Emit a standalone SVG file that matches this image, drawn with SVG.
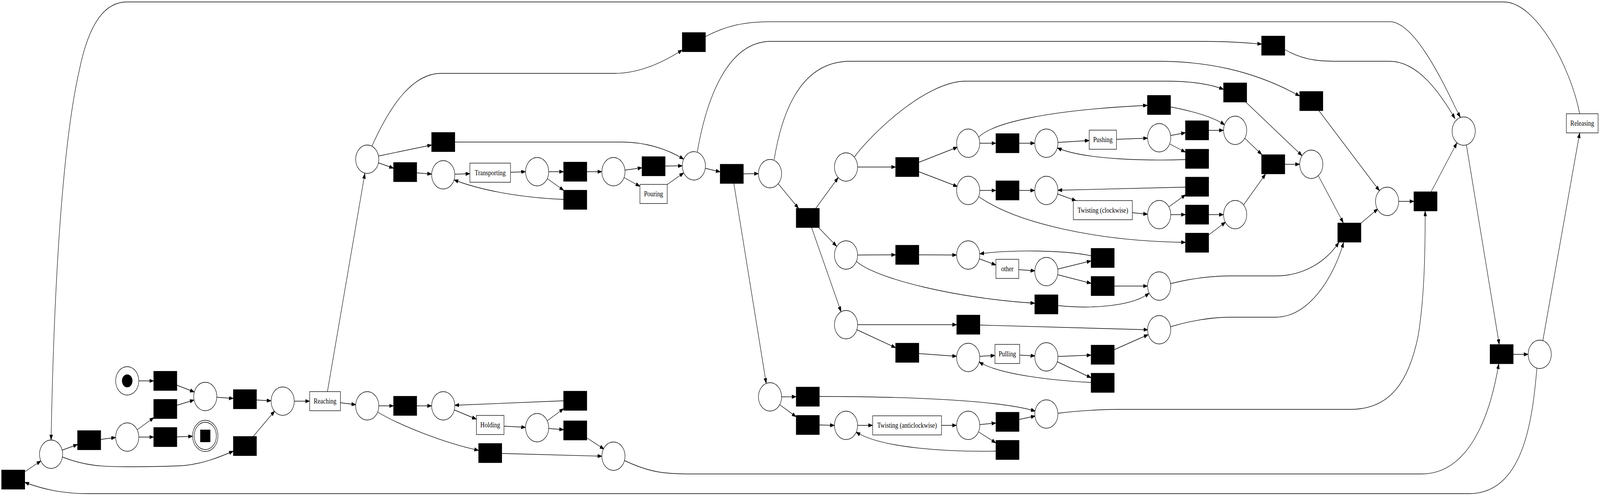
<svg xmlns="http://www.w3.org/2000/svg" width="5043" height="1271" viewBox="0 0 5043 1271" preserveAspectRatio="none">
<style>
svg:root{width:100vw;height:100vh}
.p{fill:#fff;stroke:#000;stroke-width:1.35}
.t{fill:#000;stroke:#000;stroke-width:1.35}
.l{fill:#fff;stroke:#000;stroke-width:1.35}
.e path{fill:none;stroke:#000;stroke-width:1.35;marker-end:url(#a)}
text{font-family:"Liberation Serif","Times New Roman",serif;font-size:19px;text-anchor:middle;fill:#000}
</style>
<defs>
<marker id="a" markerUnits="userSpaceOnUse" markerWidth="14" markerHeight="10" refX="13.5" refY="4.7" orient="auto"><path d="M0,0 L13.5,4.7 L0,9.4 Z" fill="#000" stroke="#000" stroke-width="1"/></marker>
</defs>
<rect width="5043" height="1271" fill="#fff"/>
<g id="connectors" class="e">
<path d="M78,1209 L129,1181"/>
<path d="M196,1153.5 L244.5,1139"/>
<path d="M317.5,1126 L364.5,1121"/>
<path d="M433,1101 L485,1070"/>
<path d="M437.5,1120 L484.5,1120"/>
<path d="M557.5,1119.5 L607,1118"/>
<path d="M437.5,976 L484.5,976"/>
<path d="M557.5,1038.5 L612,1025"/>
<path d="M557.5,987 L612.5,1004.5"/>
<path d="M683.5,1018 L735.5,1021"/>
<path d="M808.5,1025 L854.5,1027"/>
<path d="M196.5,1171 C270,1195 330,1196 400,1196 C470,1196 520,1196 580,1193 C640,1188 690,1172 735.5,1156"/>
<path d="M798,1118.5 L866,1053"/>
<path d="M927.5,1028 L976,1028"/>
<path d="M1073,1032 L1121.5,1037"/>
<path d="M1032,1003.5 L1150,444.5"/>
<path d="M1194,1040 L1240.5,1040"/>
<path d="M1313.5,1040 L1360.5,1040"/>
<path d="M1432,1050.5 L1501.5,1074"/>
<path d="M1588.5,1092 L1656.5,1095"/>
<path d="M1725.5,1078 L1776.5,1047"/>
<path d="M1729.5,1098 L1776.5,1101"/>
<path d="M1776.5,1027 L1433.5,1038.5"/>
<path d="M1849.5,1122 L1904,1151"/>
<path d="M1190.5,1056 C1260,1090 1400,1135 1508.5,1154"/>
<path d="M1581.5,1162 L1897,1169"/>
<path d="M1968,1180 C2050,1212 2100,1214.5 2180,1214.5 L4480,1214.5 C4660,1214.5 4710,1000 4724,932"/>
<path d="M4979,291.5 C4950,170 4840,5 4740,5 L400,5 C330,5 280,60 250,180 C205,340 172,650 161,1127.5"/>
<path d="M4844,944 C4830,1080 4800,1265 4630,1265 L280,1265 C200,1265 140,1255 78,1236"/>
<path d="M1172,375 C1230,270 1300,188 1390,188 L1937,188 C2010,188 2080,165 2150.5,128"/>
<path d="M1192,400 L1360.5,371.5"/>
<path d="M1433,364 L1960,364 C2030,364 2100,380 2155,408"/>
<path d="M1192,417 L1240.5,431"/>
<path d="M1313.5,443 L1360.5,446"/>
<path d="M1433.5,446.5 L1481,445"/>
<path d="M1609,441.5 L1656.5,440"/>
<path d="M1729.5,440 L1776.5,440"/>
<path d="M1725.5,458 L1777,488"/>
<path d="M1776.5,511 C1680,508 1540,495 1431,461"/>
<path d="M1849.5,440 L1897,440"/>
<path d="M1969.5,436 L2023.5,430"/>
<path d="M1967,455 L2017,477.5"/>
<path d="M2096.5,425.5 L2150.5,425"/>
<path d="M2102.5,473 L2155,443"/>
<path d="M2222,431 L2270,440.5"/>
<path d="M2198,389 C2225,260 2290,106 2430,106 L3780,106 C3880,106 3930,110 3976.5,113"/>
<path d="M2343,445.5 L2390.5,445"/>
<path d="M2313,470 L2415,982.5"/>
<path d="M2453,471 L2517,534"/>
<path d="M2440,409 C2470,260 2540,157 2680,157 L3650,157 C3800,157 3950,180 4096.5,246"/>
<path d="M2571,534 L2642,455"/>
<path d="M2580,583 L2637,631"/>
<path d="M2558,583 L2651,799"/>
<path d="M2703,428 L2823,428"/>
<path d="M2693,402 C2750,340 2920,208 3044,208 L3680,208 C3760,208 3820,217 3856.5,229"/>
<path d="M2896,416 L3018,377"/>
<path d="M2896,440 L3018,478"/>
<path d="M3088,367 L3139,367"/>
<path d="M3212,367 L3261.5,367"/>
<path d="M3085,351 C3130,315 3300,282 3616.5,270"/>
<path d="M3334.5,365 L3433,360"/>
<path d="M3519,357 L3617,354"/>
<path d="M3688.5,347.5 L3736.5,340"/>
<path d="M3687,369 L3736.5,390"/>
<path d="M3736.5,409 C3620,412 3420,410 3332.5,379"/>
<path d="M3809.5,334 L3856.5,334"/>
<path d="M3689.5,274 C3760,285 3825,300 3860,320"/>
<path d="M3088,488 L3139,488"/>
<path d="M3212,488 L3261.5,488"/>
<path d="M3333,497 L3392,514.5"/>
<path d="M3569,545 L3617,549"/>
<path d="M3684,530 L3737,499"/>
<path d="M3736.5,479.5 L3334.5,487.5"/>
<path d="M3690,550 L3736.5,550"/>
<path d="M3809.5,550 L3856.5,550"/>
<path d="M3085,504 C3200,570 3450,618 3736.5,621"/>
<path d="M3809.5,602 L3863,569"/>
<path d="M3923,354 L3977,396"/>
<path d="M3920,524.5 L3989,446"/>
<path d="M4049.5,421 L4096.5,421"/>
<path d="M3926.5,261.5 L4104,399"/>
<path d="M4049.5,127 C4120,160 4180,157 4240,157 L4380,157 C4470,157 4540,240 4586,304"/>
<path d="M2223,94 C2290,65 2350,55.6 2430,55.6 L4380,55.6 C4470,55.6 4575,260 4603,301"/>
<path d="M4155,450 L4234,571"/>
<path d="M4156.5,283 L4348,489"/>
<path d="M4289.5,572 L4343,535"/>
<path d="M4408.5,516 L4456.5,516"/>
<path d="M4511,491 L4592,366"/>
<path d="M4622,372 L4725.5,883"/>
<path d="M4769.5,908 L4816.5,908"/>
<path d="M4863,872 L4979,340.5"/>
<path d="M3688.5,727 C3760,712 3820,707 3880,707 L4021,707 C4110,707 4180,670 4220,621"/>
<path d="M3688.5,837.5 C3760,820 3820,812.7 3880,812.7 L4021,812.7 C4120,812.7 4200,720 4235,621"/>
<path d="M3335,1059 C3400,1052 3480,1049 3530,1049 L4257,1049 C4380,1049 4440,980 4470,860 C4490,760 4492,640 4492,540.5"/>
<path d="M2463.5,1017 L2509.5,1016.5"/>
<path d="M2457.5,1037 L2509.5,1068"/>
<path d="M2582.5,1089 L2630,1090"/>
<path d="M2703,1090 L2750.5,1090"/>
<path d="M2967.5,1090 L3015,1090"/>
<path d="M3088,1088 L3139,1084"/>
<path d="M3084,1106.5 L3139,1135"/>
<path d="M3139,1156 C3000,1158 2780,1150 2698,1107"/>
<path d="M3212,1075 L3263,1066"/>
<path d="M2582.5,1016 C2850,1016 3150,1025 3263,1053.5"/>
<path d="M2703,653.5 L2823,653"/>
<path d="M2896,653 L3015,653.5"/>
<path d="M3086,663 L3139,679"/>
<path d="M3211,691 L3262,694"/>
<path d="M3334,689.5 L3439,668.5"/>
<path d="M3334,704 L3439,726"/>
<path d="M3439,655.5 C3350,640 3180,640 3088,650.5"/>
<path d="M3512,733 L3617,733"/>
<path d="M2698,669 C2760,715 3020,765 3261.5,777"/>
<path d="M3335,783 C3440,792 3570,785 3622,751"/>
<path d="M2703,832 L3015.5,832"/>
<path d="M3088.5,833 L3618,845"/>
<path d="M2701,845 L2823,891"/>
<path d="M2896,906 L3015,913"/>
<path d="M3088,913 L3136,911"/>
<path d="M3214,910 L3262,912"/>
<path d="M3334.5,913.5 L3439,910"/>
<path d="M3332.5,927 L3439,968"/>
<path d="M3439,980 C3320,975 3150,960 3086,927.5"/>
<path d="M3512,896 L3619,857.5"/>
</g>
<g id="pstart"><circle class="p" cx="401" cy="976" r="36.5"/><circle cx="401" cy="976" r="16.5" fill="#000"/></g>
<g id="pend"><circle class="p" cx="647" cy="1117" r="40"/><circle class="p" cx="647" cy="1117" r="35"/><rect x="631" y="1101" width="32" height="32" fill="#000"/></g>
<g id="p1"><circle class="p" cx="161" cy="1164" r="36.5"/></g>
<g id="p3"><circle class="p" cx="401" cy="1120" r="36.5"/></g>
<g id="p7"><circle class="p" cx="647" cy="1016" r="36.5"/></g>
<g id="p9"><circle class="p" cx="891" cy="1028" r="36.5"/></g>
<g id="p11"><circle class="p" cx="1157.5" cy="1040" r="36.5"/></g>
<g id="p19"><circle class="p" cx="1157.5" cy="408" r="36.5"/></g>
<g id="p13"><circle class="p" cx="1397" cy="1040" r="36.5"/></g>
<g id="p23"><circle class="p" cx="1397" cy="448" r="36.5"/></g>
<g id="p14"><circle class="p" cx="1693" cy="1096" r="36.5"/></g>
<g id="p24"><circle class="p" cx="1693" cy="440" r="36.5"/></g>
<g id="p18"><circle class="p" cx="1933.5" cy="1169" r="36.5"/></g>
<g id="p27"><circle class="p" cx="1933.5" cy="440" r="36.5"/></g>
<g id="p29"><circle class="p" cx="2187" cy="425" r="36.5"/></g>
<g id="p31"><circle class="p" cx="2427" cy="445" r="36.5"/></g>
<g id="p70"><circle class="p" cx="2427" cy="1017" r="36.5"/></g>
<g id="p33"><circle class="p" cx="2666.6" cy="428" r="36.5"/></g>
<g id="p54"><circle class="p" cx="2666.6" cy="653.5" r="36.5"/></g>
<g id="p62"><circle class="p" cx="2666.6" cy="832" r="36.5"/></g>
<g id="p73"><circle class="p" cx="2666.6" cy="1090" r="36.5"/></g>
<g id="p35"><circle class="p" cx="3051.6" cy="367" r="36.5"/></g>
<g id="p36"><circle class="p" cx="3051.6" cy="488" r="36.5"/></g>
<g id="p56"><circle class="p" cx="3051.6" cy="653.5" r="36.5"/></g>
<g id="p66"><circle class="p" cx="3051.6" cy="916" r="36.5"/></g>
<g id="p74"><circle class="p" cx="3051.6" cy="1090" r="36.5"/></g>
<g id="p38"><circle class="p" cx="3298" cy="367" r="36.5"/></g>
<g id="p42"><circle class="p" cx="3298" cy="488" r="36.5"/></g>
<g id="p57"><circle class="p" cx="3298" cy="696" r="36.5"/></g>
<g id="p67"><circle class="p" cx="3298" cy="914.5" r="36.5"/></g>
<g id="p77"><circle class="p" cx="3298" cy="1061" r="36.5"/></g>
<g id="p39"><circle class="p" cx="3653.6" cy="353" r="36.5"/></g>
<g id="p43"><circle class="p" cx="3653.6" cy="550" r="36.5"/></g>
<g id="p60"><circle class="p" cx="3653.6" cy="733" r="36.5"/></g>
<g id="p64"><circle class="p" cx="3653.6" cy="845" r="36.5"/></g>
<g id="pg"><circle class="p" cx="3893" cy="334" r="36.5"/></g>
<g id="ph"><circle class="p" cx="3893" cy="550" r="36.5"/></g>
<g id="pe"><circle class="p" cx="4133" cy="421" r="36.5"/></g>
<g id="pf"><circle class="p" cx="4372" cy="516" r="36.5"/></g>
<g id="pbig"><circle class="p" cx="4613.4" cy="336" r="36.5"/></g>
<g id="p53"><circle class="p" cx="4853" cy="908" r="36.5"/></g>
<g id="t0"><rect class="t" x="5" y="1204.5" width="73" height="49"/></g>
<g id="t2"><rect class="t" x="244.5" y="1103.5" width="73" height="49"/></g>
<g id="t4"><rect class="t" x="484.5" y="1023.5" width="73" height="49"/></g>
<g id="t5"><rect class="t" x="484.5" y="1095.5" width="73" height="49"/></g>
<g id="t6"><rect class="t" x="484.5" y="951.5" width="73" height="49"/></g>
<g id="t8"><rect class="t" x="735.5" y="998.5" width="73" height="49"/></g>
<g id="t10"><rect class="t" x="735.5" y="1118.5" width="73" height="49"/></g>
<g id="t12"><rect class="t" x="1240.5" y="1015.5" width="73" height="49"/></g>
<g id="t22"><rect class="t" x="1240.5" y="416.5" width="73" height="49"/></g>
<g id="t21"><rect class="t" x="1360.5" y="339.5" width="73" height="49"/></g>
<g id="t17"><rect class="t" x="1508.5" y="1136.5" width="73" height="49"/></g>
<g id="t15"><rect class="t" x="1776.5" y="1002.5" width="73" height="49"/></g>
<g id="t16"><rect class="t" x="1776.5" y="1078.5" width="73" height="49"/></g>
<g id="t25"><rect class="t" x="1776.5" y="415.5" width="73" height="49"/></g>
<g id="t26"><rect class="t" x="1776.5" y="487.5" width="73" height="49"/></g>
<g id="t28"><rect class="t" x="2023.5" y="401.5" width="73" height="49"/></g>
<g id="t20"><rect class="t" x="2150.5" y="83.5" width="73" height="49"/></g>
<g id="t30"><rect class="t" x="2270" y="421" width="73" height="49"/></g>
<g id="t32"><rect class="t" x="2509.5" y="534" width="73" height="49"/></g>
<g id="t71"><rect class="t" x="2509.5" y="992" width="73" height="49"/></g>
<g id="t72"><rect class="t" x="2509.5" y="1064.5" width="73" height="49"/></g>
<g id="t34"><rect class="t" x="2823" y="403.5" width="73" height="49"/></g>
<g id="t55"><rect class="t" x="2823" y="628.5" width="73" height="49"/></g>
<g id="t65"><rect class="t" x="2823" y="879.5" width="73" height="49"/></g>
<g id="t63"><rect class="t" x="3015.5" y="807.5" width="73" height="49"/></g>
<g id="t37"><rect class="t" x="3139" y="342.5" width="73" height="49"/></g>
<g id="t41"><rect class="t" x="3139" y="463.5" width="73" height="49"/></g>
<g id="t75"><rect class="t" x="3139" y="1056.5" width="73" height="49"/></g>
<g id="t76"><rect class="t" x="3139" y="1128.5" width="73" height="49"/></g>
<g id="t61"><rect class="t" x="3261.5" y="755.5" width="73" height="49"/></g>
<g id="t58"><rect class="t" x="3439" y="636.5" width="73" height="49"/></g>
<g id="t59"><rect class="t" x="3439" y="708.5" width="73" height="49"/></g>
<g id="t68"><rect class="t" x="3439" y="884.5" width="73" height="49"/></g>
<g id="t69"><rect class="t" x="3439" y="956.5" width="73" height="49"/></g>
<g id="t40"><rect class="t" x="3616.5" y="244.5" width="73" height="49"/></g>
<g id="t44"><rect class="t" x="3736.5" y="309.5" width="73" height="49"/></g>
<g id="t45"><rect class="t" x="3736.5" y="382.5" width="73" height="49"/></g>
<g id="t46"><rect class="t" x="3736.5" y="454" width="73" height="49"/></g>
<g id="t47"><rect class="t" x="3736.5" y="525.5" width="73" height="49"/></g>
<g id="t48"><rect class="t" x="3736.5" y="597.5" width="73" height="49"/></g>
<g id="td"><rect class="t" x="3856.5" y="212.5" width="73" height="49"/></g>
<g id="t49"><rect class="t" x="3976.5" y="396.5" width="73" height="49"/></g>
<g id="ta"><rect class="t" x="3976.5" y="92.5" width="73" height="49"/></g>
<g id="tc"><rect class="t" x="4096.5" y="234.5" width="73" height="49"/></g>
<g id="t50"><rect class="t" x="4216.5" y="571.5" width="73" height="49"/></g>
<g id="t51"><rect class="t" x="4456.5" y="491.5" width="73" height="49"/></g>
<g id="t52"><rect class="t" x="4696.5" y="883" width="73" height="49"/></g>
<g id="reaching"><rect class="l" x="976" y="1003.5" width="97" height="49"/><text x="1024.5" y="1034.5">Reaching</text></g>
<g id="holding"><rect class="l" x="1501.5" y="1064.5" width="87" height="49"/><text x="1545" y="1095.5">Holding</text></g>
<g id="transporting"><rect class="l" x="1481" y="418" width="128" height="49"/><text x="1545" y="449">Transporting</text></g>
<g id="pouring"><rect class="l" x="2017" y="472.5" width="86" height="49"/><text x="2060" y="503.5">Pouring</text></g>
<g id="twisting-acw"><rect class="l" x="2750.5" y="1065.5" width="217" height="49"/><text x="2859" y="1096.5">Twisting (anticlockwise)</text></g>
<g id="other"><rect class="l" x="3139" y="664.5" width="72" height="49"/><text x="3175" y="695.5">other</text></g>
<g id="pulling"><rect class="l" x="3136" y="882.5" width="78" height="49"/><text x="3175" y="913.5">Pulling</text></g>
<g id="pushing"><rect class="l" x="3433" y="333.5" width="86" height="49"/><text x="3476" y="364.5">Pushing</text></g>
<g id="twisting-cw"><rect class="l" x="3383" y="514" width="186" height="49"/><text x="3476" y="545">Twisting (clockwise)</text></g>
<g id="releasing"><rect class="l" x="4937" y="291.5" width="100" height="49"/><text x="4987" y="322.5">Releasing</text></g>
</svg>
